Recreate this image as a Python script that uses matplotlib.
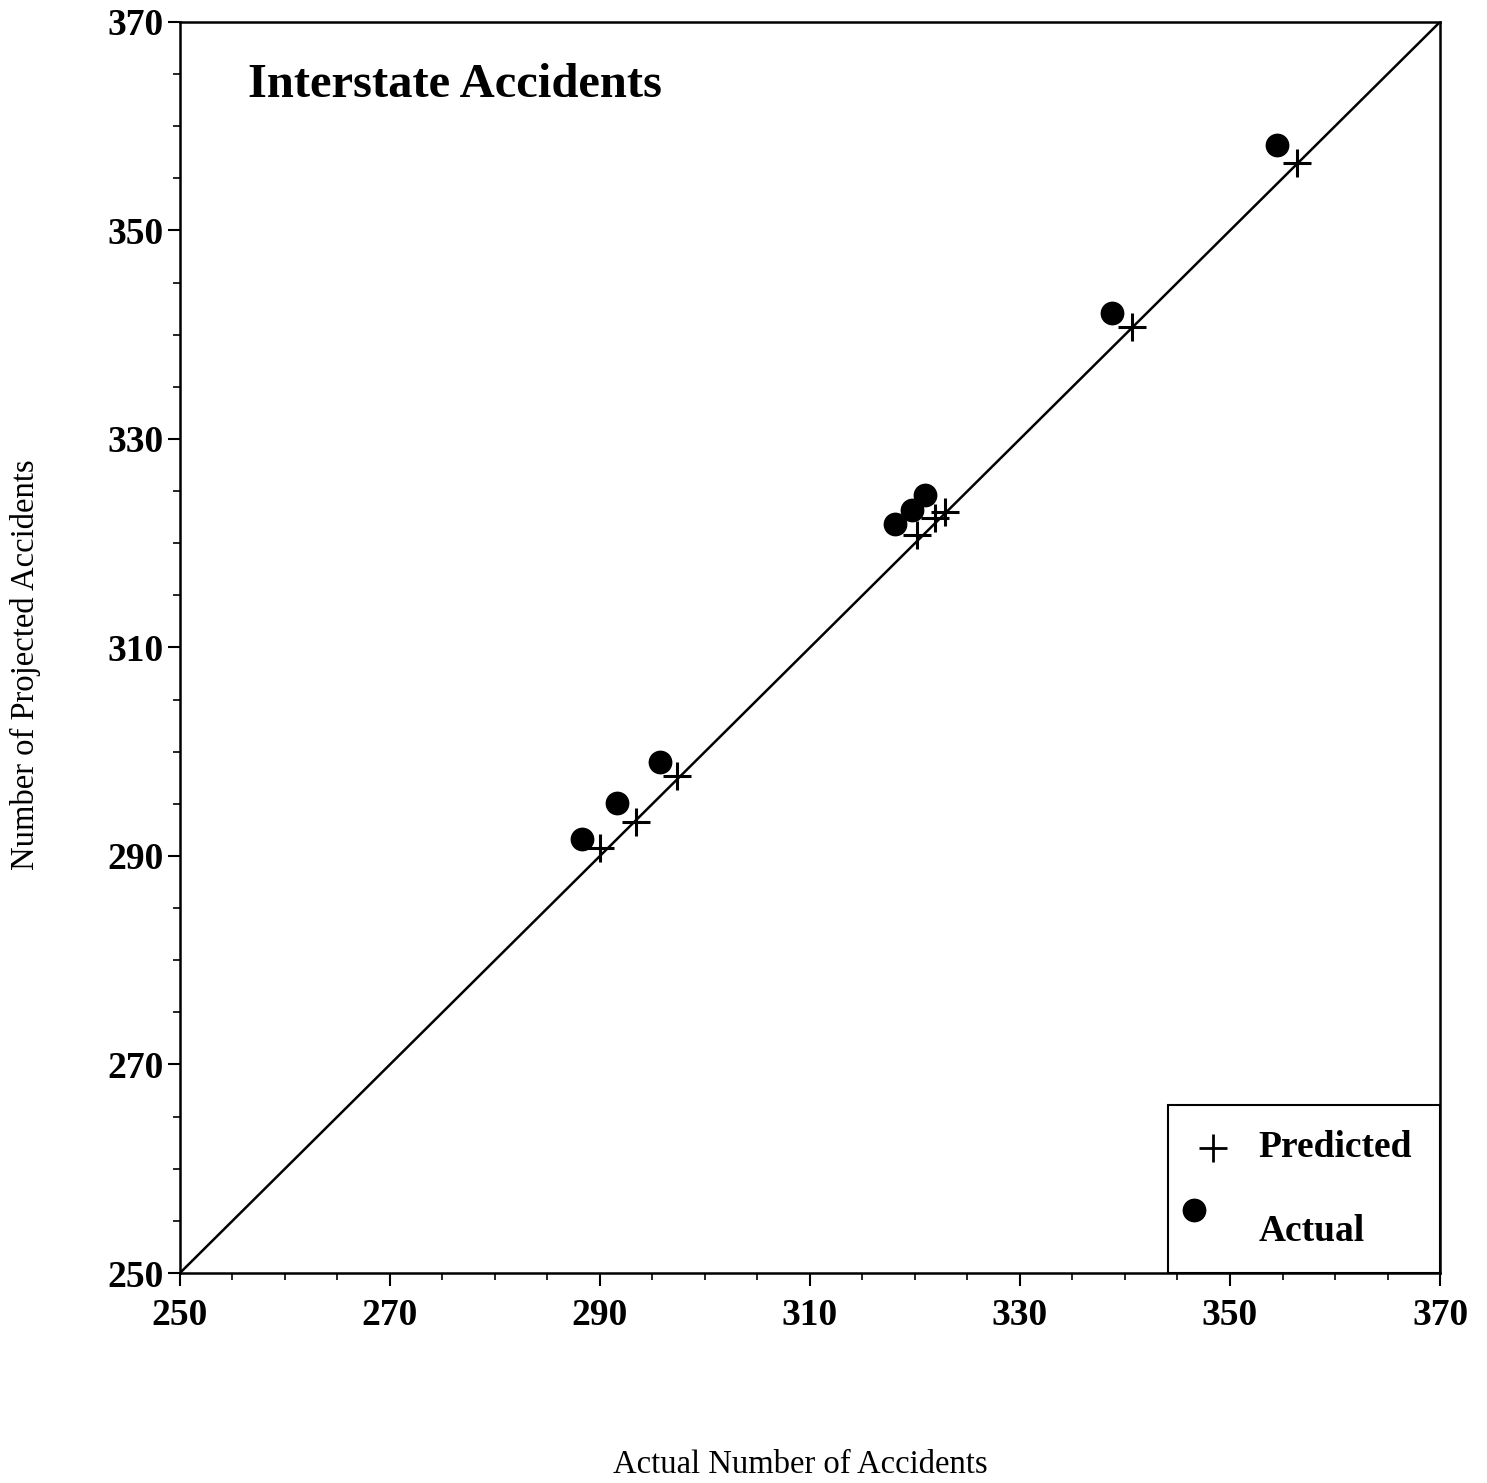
import matplotlib as mpl
mpl.use('Agg')
import matplotlib.pyplot as plt
from matplotlib.patches import Rectangle
from matplotlib.ticker import MultipleLocator

# data
actual_x = [288.3, 291.6, 295.7, 318.1, 319.7, 321.0, 338.8, 354.5]
actual_y = [291.6, 295.1, 299.0, 321.8, 323.2, 324.6, 342.1, 358.2]
pred_x = [290.0, 293.4, 297.3, 320.2, 321.9, 322.9, 340.7, 356.4]
pred_y = [290.8, 293.3, 297.7, 320.8, 322.4, 323.0, 340.7, 356.5]
ref_line = [250, 370]
ticks = [250, 270, 290, 310, 330, 350, 370]

plt.rcParams['font.family'] = ['Liberation Serif', 'DejaVu Serif']

fig = plt.figure(figsize=(14.87, 14.83), dpi=100)
ax = fig.add_axes([0.1210, 0.1416, 0.8474, 0.8436])

ax.plot(ref_line, ref_line, color='black', linewidth=1.8)
ax.scatter(actual_x, actual_y, s=260, color='black', marker='o', zorder=3)
ax.scatter(pred_x, pred_y, s=380, color='black', marker='+', linewidths=2.2, zorder=3)

ax.set_xlim(250, 370)
ax.set_ylim(250, 370)
ax.set_xticks(ticks)
ax.set_yticks(ticks)
ax.xaxis.set_minor_locator(MultipleLocator(5))
ax.yaxis.set_minor_locator(MultipleLocator(5))
ax.tick_params(which='major', direction='out', length=9, width=1.5, labelsize=27)
ax.tick_params(which='minor', direction='out', length=5, width=1.2)
ax.tick_params(axis='x', which='major', pad=9)
ax.tick_params(axis='y', which='major', pad=3)
for lab in ax.get_xticklabels() + ax.get_yticklabels():
    lab.set_fontweight('bold')
for sp in ax.spines.values():
    sp.set_linewidth(1.8)

ax.text(0.054, 0.95, 'Interstate Accidents', transform=ax.transAxes,
        fontsize=35, fontweight='bold', va='center', ha='left')

# legend box drawn by hand (odd layout in the original)
ax.add_patch(Rectangle((0.784, 0.0), 0.216, 0.134, transform=ax.transAxes,
                       fill=False, edgecolor='black', linewidth=1.5, zorder=4))
ax.scatter([0.820], [0.100], s=420, marker='+', color='black', linewidths=2.0,
           transform=ax.transAxes, zorder=5, clip_on=False)
ax.text(0.856, 0.100, 'Predicted', transform=ax.transAxes, fontsize=27,
        fontweight='bold', va='center', ha='left')
ax.scatter([0.805], [0.050], s=260, marker='o', color='black',
           transform=ax.transAxes, zorder=5, clip_on=False)
ax.text(0.856, 0.033, 'Actual', transform=ax.transAxes, fontsize=27,
        fontweight='bold', va='center', ha='left')

fig.text(0.538, 0.012, 'Actual Number of Accidents', fontsize=23.5,
         ha='center', va='center')
fig.text(0.017, 0.5516, 'Number of Projected Accidents', fontsize=23.5,
         ha='center', va='center', rotation=90)

fig.savefig('out.png', dpi=100)
